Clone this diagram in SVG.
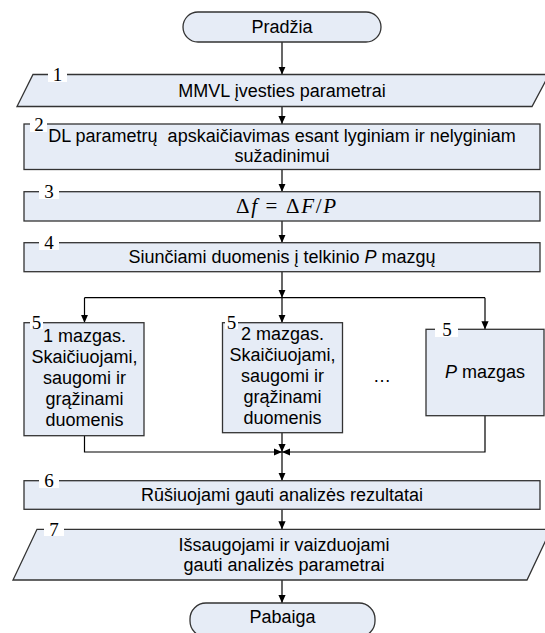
<svg xmlns="http://www.w3.org/2000/svg" width="545" height="633" viewBox="0 0 545 633">
<defs>
<marker id="ah" viewBox="0 0 10 10" refX="10" refY="5" markerWidth="8" markerHeight="8" markerUnits="userSpaceOnUse" orient="auto">
<path d="M0,0.5 L10,5 L0,9.5 z" fill="#000"/>
</marker>
</defs>
<style>
.sh{fill:#E6ECF6;stroke:#333;stroke-width:1.3}
.t{font-family:"Liberation Sans",Arial,sans-serif;font-size:18px;fill:#000;text-anchor:middle}
.m{font-family:"Liberation Serif","Times New Roman",serif;font-size:21px;fill:#000}
.lb{fill:#fff}
.n{font-family:"Liberation Serif","Times New Roman",serif;font-size:19px;fill:#000;text-anchor:middle}
.c{fill:none;stroke:#000;stroke-width:1.2}
.ca{fill:none;stroke:#000;stroke-width:1.2;marker-end:url(#ah)}
</style>
<rect width="545" height="633" fill="#fff"/>
<g id="connectors">
<path class="ca" d="M282,42 V74.5"/>
<path class="ca" d="M282,106.5 V124"/>
<path class="ca" d="M282,169.5 V191.7"/>
<path class="ca" d="M282,221 V242.7"/>
<path class="ca" d="M282,271.7 V297.7"/>
<path class="c" d="M84.5,297.7 H485"/>
<path class="ca" d="M84.5,297.7 V322.7"/>
<path class="ca" d="M282,297.7 V322.7"/>
<path class="ca" d="M485,297.7 V329.3"/>
<path class="ca" d="M84.5,435.7 V452 H282"/>
<path class="ca" d="M282,432.7 V452"/>
<path class="ca" d="M485,415.7 V452 H282"/>
<path class="ca" d="M282,452 V480.7"/>
<path class="ca" d="M282,509.3 V529.3"/>
<path class="ca" d="M282,580 V603"/>
</g>
<g id="start">
<rect class="sh" x="183" y="12" width="198" height="30" rx="15" ry="15"/>
<text class="t" x="282" y="33">Pradžia</text>
</g>
<g id="n1">
<polygon class="sh" points="33,74.5 549,74.5 532,106.5 17,106.5"/>
<rect class="lb" x="48" y="67" width="19" height="15"/>
<text class="n" x="57.5" y="81">1</text>
<text class="t" x="282" y="97">MMVL įvesties parametrai</text>
</g>
<g id="n2">
<rect class="sh" x="24" y="124" width="516" height="45.5"/>
<rect class="lb" x="30" y="117" width="17" height="15"/>
<text class="n" x="39" y="130.5">2</text>
<text class="t" x="282" y="142">DL parametrų &#160;apskaičiavimas esant lyginiam ir nelyginiam</text>
<text class="t" x="282" y="162">sužadinimui</text>
</g>
<g id="n3">
<rect class="sh" x="24" y="191.7" width="516" height="29.3"/>
<rect class="lb" x="39" y="184" width="20" height="15"/>
<text class="n" x="49" y="198">3</text>
<text class="m" x="286" y="213" text-anchor="middle" textLength="100" lengthAdjust="spacing">Δ<tspan font-style="italic">f</tspan> = Δ<tspan font-style="italic">F</tspan>/<tspan font-style="italic">P</tspan></text>
</g>
<g id="n4">
<rect class="sh" x="24" y="242.7" width="516" height="29"/>
<rect class="lb" x="39" y="235" width="20" height="15"/>
<text class="n" x="49" y="249">4</text>
<text class="t" x="282" y="263">Siunčiami duomenis į telkinio <tspan font-style="italic">P</tspan> mazgų</text>
</g>
<g id="n5a">
<rect class="sh" x="24" y="322.7" width="120" height="113"/>
<rect class="lb" x="30" y="315" width="13" height="14"/>
<text class="n" x="36.5" y="329">5</text>
<text class="t" x="84.5" y="342">1 mazgas.</text>
<text class="t" x="84.5" y="363">Skaičiuojami,</text>
<text class="t" x="84.5" y="384">saugomi ir</text>
<text class="t" x="84.5" y="405">grąžinami</text>
<text class="t" x="84.5" y="426">duomenis</text>
</g>
<g id="n5b">
<rect class="sh" x="222.5" y="322.7" width="120" height="110"/>
<rect class="lb" x="225" y="315" width="13" height="14"/>
<text class="n" x="231.5" y="329">5</text>
<text class="t" x="282.5" y="340">2 mazgas.</text>
<text class="t" x="282.5" y="361">Skaičiuojami,</text>
<text class="t" x="282.5" y="382">saugomi ir</text>
<text class="t" x="282.5" y="403">grąžinami</text>
<text class="t" x="282.5" y="424">duomenis</text>
</g>
<text class="t" x="382" y="382">…</text>
<g id="n5c">
<rect class="sh" x="426" y="329.3" width="118" height="86.4"/>
<rect class="lb" x="435" y="322" width="23" height="15"/>
<text class="n" x="447" y="335.5">5</text>
<text class="t" x="485" y="378"><tspan font-style="italic">P</tspan> mazgas</text>
</g>
<g id="n6">
<rect class="sh" x="24" y="480.7" width="516" height="28.6"/>
<rect class="lb" x="39" y="473" width="20" height="15"/>
<text class="n" x="49" y="487">6</text>
<text class="t" x="282" y="501">Rūšiuojami gauti analizės rezultatai</text>
</g>
<g id="n7">
<polygon class="sh" points="37,529.3 551,529.3 527,580 13,580"/>
<rect class="lb" x="44" y="521" width="20" height="15"/>
<text class="n" x="54" y="535.5">7</text>
<text class="t" x="284" y="551">Išsaugojami ir vaizduojami</text>
<text class="t" x="284" y="571">gauti analizės parametrai</text>
</g>
<g id="end">
<rect class="sh" x="190" y="603" width="185" height="34" rx="16" ry="16"/>
<text class="t" x="282.5" y="623">Pabaiga</text>
</g>
</svg>
